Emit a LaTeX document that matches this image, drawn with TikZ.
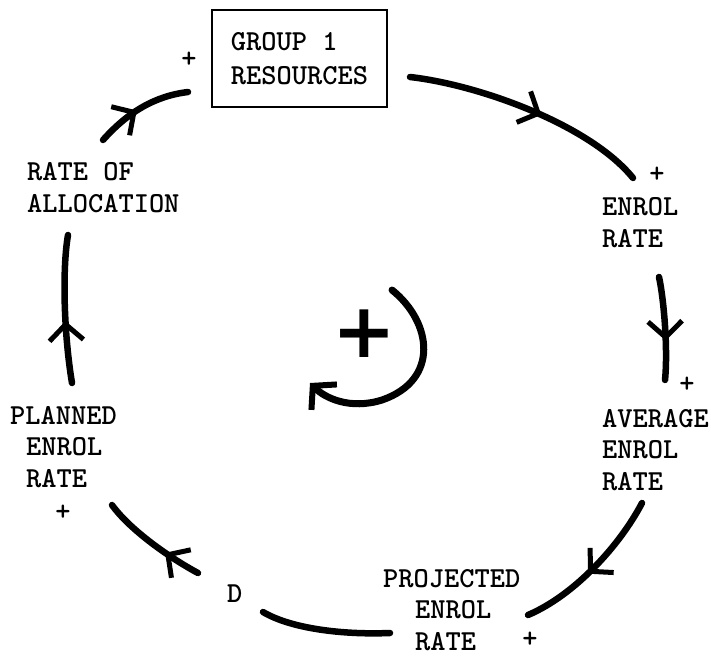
\documentclass[tikz,border=0pt]{standalone}
\usepackage{fontspec}
\newfontfamily\plusfont{DejaVu Sans}
\usetikzlibrary{arrows.meta}
\usetikzlibrary{decorations.markings}

\begin{document}
\begin{tikzpicture}[x=1pt, y=-1pt, line cap=round,
  flow/.style={line width=6.5pt},
  midarrow/.style={postaction={decorate}, decoration={markings,
    mark=at position #1 with {\arrow{Straight Barb[length=16pt, width=34pt, line width=5pt]}}}},
  lbl/.style={font=\ttfamily\bfseries\fontsize{29}{31.5}\selectfont, inner sep=0pt, align=left, anchor=base west},
  sgn/.style={font=\ttfamily\bfseries\fontsize{29}{29}\selectfont, inner sep=0pt}]
\useasboundingbox (0,0) rectangle (711,655);

% variables
\node[draw, line width=2.5pt, font=\ttfamily\bfseries\fontsize{29}{34}\selectfont, align=left,
  minimum width=175pt, minimum height=97pt, inner xsep=17pt] (res) at (299.5,58.5) {GROUP 1\\RESOURCES};
\node[lbl] (enrol) at (602,247) {ENROL\\RATE};
\node[lbl] (avg) at (602,490) {AVERAGE\\ENROL\\RATE};
\node[lbl] (proj) at (383,650) {PROJECTED\\\hspace*{32pt}ENROL\\\hspace*{32pt}RATE};
\node[lbl] (d) at (227,602) {D};
\node[lbl] (plan) at (10,487) {PLANNED\\\hspace*{16pt}ENROL\\\hspace*{16pt}RATE};
\node[lbl] (alloc) at (27,212) {RATE OF\\ALLOCATION};

% polarities
\node[sgn] (p-res) at (189,60) {+};
\node[sgn] (p-enrol) at (657,175) {+};
\node[sgn] (p-avg) at (687,385) {+};
\node[sgn] (p-proj) at (530,640) {+};
\node[sgn] (p-plan) at (63,513) {+};

% link ends
\coordinate (r-out) at (410,77);
\coordinate (e-in) at (633,178);
\coordinate (e-out) at (659,277);
\coordinate (a-in) at (665,380);
\coordinate (a-out) at (642,503);
\coordinate (pr-in) at (528,615);
\coordinate (pr-out) at (390,633);
\coordinate (d-in) at (263,612);
\coordinate (d-out) at (198,573);
\coordinate (pl-in) at (112,505);
\coordinate (pl-out) at (72,383);
\coordinate (al-in) at (68,235);
\coordinate (al-out) at (103,140);
\coordinate (r-in) at (188,92);

% links
\draw[flow, midarrow=0.55] (r-out) .. controls (480,85) and (590,125) .. (e-in);
\draw[flow, midarrow=0.62] (e-out) .. controls (664,300) and (668,350) .. (a-in);
\draw[flow, midarrow=0.55] (a-out) .. controls (620,545) and (575,595) .. (pr-in);
\draw[flow] (pr-out) .. controls (340,635) and (290,628) .. (d-in);
\draw[flow, midarrow=0.35] (d-out) .. controls (170,558) and (130,530) .. (pl-in);
\draw[flow, midarrow=0.42] (pl-out) .. controls (64,335) and (62,270) .. (al-in);
\draw[flow, midarrow=0.45] (al-out) .. controls (128,112) and (155,96) .. (r-in);

% loop polarity
\coordinate (lp-start) at (392,290);
\coordinate (lp-end) at (310,383);
\node[font=\plusfont\bfseries\fontsize{76}{76}\selectfont, inner sep=0pt] (lp) at (364,334) {+};
\draw[line width=7pt, -{Straight Barb[length=16pt, width=36pt, line width=6pt]}]
  (lp-start) .. controls (432,322) and (440,380) .. (382,400) .. controls (350,410) and (325,398) .. (lp-end);
\end{tikzpicture}
\end{document}
